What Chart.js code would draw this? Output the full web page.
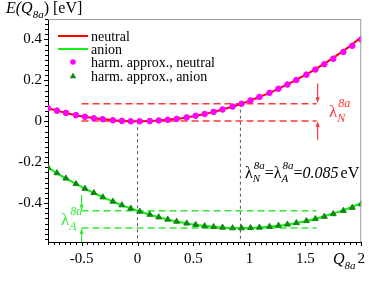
<!DOCTYPE html>
<html>
<head>
<meta charset="utf-8">
<script src="https://cdn.jsdelivr.net/npm/chart.js@4.4.1/dist/chart.umd.min.js"></script>
<style>
  html, body { margin: 0; padding: 0; background: #fff; }
</style>
</head>
<body>
<canvas id="graficoEnergia" width="373" height="292"></canvas>
<script>
// DADOS

const coordQ = [-0.80, -0.72, -0.64, -0.55, -0.47, -0.39, -0.31, -0.22, -0.14, -0.06,
  0.02, 0.11, 0.19, 0.27, 0.35, 0.44, 0.52, 0.60, 0.68, 0.76, 0.85, 0.93, 1.01, 1.09,
  1.18, 1.26, 1.34, 1.42, 1.51, 1.59, 1.67, 1.75, 1.84, 1.92, 2.00];

const energiaNeutro = [0.064, 0.052, 0.041, 0.030, 0.022, 0.015, 0.010, 0.005, 0.002, 0.000,
  0.000, 0.001, 0.004, 0.007, 0.012, 0.019, 0.027, 0.036, 0.046, 0.058, 0.072, 0.086, 0.102, 0.119,
  0.139, 0.159, 0.180, 0.203, 0.229, 0.255, 0.282, 0.310, 0.344, 0.376, 0.412];

const energiaAnion = [-0.226, -0.253, -0.279, -0.306, -0.329, -0.350, -0.371, -0.392, -0.410, -0.426,
  -0.441, -0.456, -0.469, -0.480, -0.490, -0.499, -0.506, -0.512, -0.516, -0.519, -0.522, -0.522, -0.521, -0.519,
  -0.515, -0.510, -0.504, -0.497, -0.487, -0.476, -0.464, -0.451, -0.434, -0.418, -0.400];

const harmNeutro = [0.064, 0.052, 0.041, 0.030, 0.022, 0.015, 0.010, 0.005, 0.002, 0.000,
  0.000, 0.001, 0.004, 0.007, 0.012, 0.019, 0.027, 0.036, 0.046, 0.058, 0.072, 0.086, 0.102, 0.119,
  0.139, 0.159, 0.180, 0.202, 0.228, 0.253, 0.279, 0.306, 0.339, 0.369, 0.400];

const harmAnion = [-0.226, -0.253, -0.279, -0.306, -0.329, -0.350, -0.371, -0.392, -0.410, -0.426,
  -0.441, -0.456, -0.469, -0.480, -0.490, -0.499, -0.506, -0.512, -0.516, -0.519, -0.522, -0.522, -0.521, -0.519,
  -0.515, -0.510, -0.504, -0.497, -0.487, -0.477, -0.466, -0.453, -0.437, -0.422, -0.405];

const nomesSeries = ["neutral", "anion", "harm. approx., neutral", "harm. approx., anion"];

const ticksX = [-0.5, 0, 0.5, 1, 1.5, 2];
const ticksY = [-0.4, -0.2, 0, 0.2, 0.4];

// niveis tracejados (lambda) e guias verticais
const nivelLambdaN = [0.086, 0.001];
const nivelLambdaA = [-0.437, -0.522];
const faixaGuia = [-0.5, 1.6];
const qVerticais = [0, 0.92];
const topoVerticais = [0.0, 0.086];

// setas: [Q, E inicio, E ponta]
const setasN = [[1.61, 0.185, 0.088], [1.61, -0.09, 0.002]];
const setasA = [[-0.5, -0.36, -0.437], [-0.5, -0.59, -0.522]];

const Y_MIN = -0.59;

const vermelho = "#ff0000";
const verde = "#11ee11";
const magenta = "#ff00ff";
const verdeEscuro = "#118811";
const tracoVermelho = "#ff3636";
const tracoVerde = "#36e836";
const fonteSerif = "'Liberation Serif', 'Times New Roman', serif";

function pontos(ys) {
  return coordQ.map((q, i) => ({ x: q, y: ys[i] }));
}

const datasets = [
  {
    label: nomesSeries[2], data: pontos(harmNeutro), showLine: false,
    pointStyle: "circle", pointRadius: 2.8, backgroundColor: magenta, borderColor: magenta, order: 0,
  },
  {
    label: nomesSeries[3], data: pontos(harmAnion), showLine: false,
    pointStyle: "triangle", pointRadius: 3.4, backgroundColor: verdeEscuro, borderColor: verdeEscuro, order: 0,
  },
  {
    label: nomesSeries[0], data: pontos(energiaNeutro), showLine: true, pointRadius: 0,
    borderColor: vermelho, borderWidth: 2, tension: 0.3, order: 1,
  },
  {
    label: nomesSeries[1], data: pontos(energiaAnion), showLine: true, pointRadius: 0,
    borderColor: verde, borderWidth: 2, tension: 0.3, order: 1,
  },
];

// tracejados horizontais
nivelLambdaN.forEach((e) => {
  datasets.push({
    data: faixaGuia.map((q) => ({ x: q, y: e })), showLine: true, pointRadius: 0,
    borderColor: tracoVermelho, borderWidth: 1.5, borderDash: [7, 4], order: 2,
  });
});
nivelLambdaA.forEach((e) => {
  datasets.push({
    data: faixaGuia.map((q) => ({ x: q, y: e })), showLine: true, pointRadius: 0,
    borderColor: tracoVerde, borderWidth: 1.5, borderDash: [7, 4], order: 2,
  });
});
// guias verticais
qVerticais.forEach((q, i) => {
  datasets.push({
    data: [{ x: q, y: topoVerticais[i] }, { x: q, y: Y_MIN }], showLine: true, pointRadius: 0,
    borderColor: "#555555", borderWidth: 1, borderDash: [3, 3], order: 2,
  });
});

function textoRico(ctx, x, y, partes, cor) {
  let cx = x;
  ctx.fillStyle = cor;
  ctx.textBaseline = "alphabetic";
  ctx.textAlign = "left";
  partes.forEach((p) => {
    if (p.sup !== undefined) {
      ctx.font = p.fonte;
      const w1 = ctx.measureText(p.sup).width;
      const w2 = ctx.measureText(p.sub).width;
      ctx.fillText(p.sup, cx + (p.dxSup || 0), y + p.dySup);
      ctx.fillText(p.sub, cx, y + p.dySub);
      cx += Math.max(w1 + (p.dxSup || 0), w2);
    } else {
      ctx.font = p.fonte;
      ctx.fillText(p.t, cx, y + (p.dy || 0));
      cx += ctx.measureText(p.t).width + (p.dx || 0);
    }
  });
}

function seta(ctx, x, y0, y1, cor) {
  const dir = y1 > y0 ? 1 : -1;
  ctx.strokeStyle = cor;
  ctx.fillStyle = cor;
  ctx.lineWidth = 1.2;
  ctx.beginPath();
  ctx.moveTo(x, y0);
  ctx.lineTo(x, y1 - dir * 4);
  ctx.stroke();
  ctx.beginPath();
  ctx.moveTo(x, y1);
  ctx.lineTo(x - 2, y1 - dir * 6);
  ctx.lineTo(x + 2, y1 - dir * 6);
  ctx.closePath();
  ctx.fill();
}

const desenhoExtra = {
  id: "desenhoExtra",
  afterDraw(chart) {
    const { ctx, chartArea: a } = chart;
    const xs = chart.scales.x;
    const ys = chart.scales.y;
    ctx.save();

    // moldura cinza (topo e direita)
    ctx.strokeStyle = "#999999";
    ctx.lineWidth = 1;
    ctx.beginPath();
    ctx.moveTo(a.left, a.top + 0.5);
    ctx.lineTo(a.right - 0.5, a.top + 0.5);
    ctx.lineTo(a.right - 0.5, a.bottom);
    ctx.stroke();

    // ticks menores/maiores
    ctx.strokeStyle = "#000";
    ctx.beginPath();
    for (let i = -16; i <= 40; i++) {
      const px = Math.round(xs.getPixelForValue(i / 20)) + 0.5;
      const len = i % 10 === 0 ? 4 : 3;
      ctx.moveTo(px, a.bottom);
      ctx.lineTo(px, a.bottom + len);
    }
    for (let i = -23; i <= 20; i++) {
      const py = Math.round(ys.getPixelForValue(i * 0.025)) + 0.5;
      const len = i % 8 === 0 ? 4 : 3;
      ctx.moveTo(a.left, py);
      ctx.lineTo(a.left - len, py);
    }
    ctx.stroke();

    // setas
    setasN.forEach(([q, e0, e1]) =>
      seta(ctx, xs.getPixelForValue(q), ys.getPixelForValue(e0), ys.getPixelForValue(e1), tracoVermelho));
    setasA.forEach(([q, e0, e1]) =>
      seta(ctx, xs.getPixelForValue(q), ys.getPixelForValue(e0), ys.getPixelForValue(e1), tracoVerde));

    // legenda
    const itensLeg = [
      { tipo: "linha", cor: vermelho },
      { tipo: "linha", cor: verde },
      { tipo: "circulo", cor: magenta },
      { tipo: "triangulo", cor: verdeEscuro },
    ];
    const yLeg = [36, 49, 62, 76];
    itensLeg.forEach((it, i) => {
      const y = yLeg[i];
      ctx.fillStyle = it.cor;
      ctx.strokeStyle = it.cor;
      if (it.tipo === "linha") {
        ctx.lineWidth = 2;
        ctx.beginPath();
        ctx.moveTo(58, y);
        ctx.lineTo(88, y);
        ctx.stroke();
      } else if (it.tipo === "circulo") {
        ctx.beginPath();
        ctx.arc(73, y, 2.8, 0, Math.PI * 2);
        ctx.fill();
      } else {
        ctx.beginPath();
        ctx.moveTo(73, y - 3.4);
        ctx.lineTo(76.2, y + 2.2);
        ctx.lineTo(69.8, y + 2.2);
        ctx.closePath();
        ctx.fill();
      }
      ctx.fillStyle = "#000";
      ctx.font = "14px " + fonteSerif;
      ctx.textBaseline = "middle";
      ctx.textAlign = "left";
      ctx.fillText(chart.data.datasets[[2, 3, 0, 1][i]].label, 91, y + 1);
    });

    // titulo do eixo y
    textoRico(ctx, 6, 13, [
      { t: "E(Q", fonte: "italic 16px " + fonteSerif },
      { t: "8a", fonte: "italic 11px " + fonteSerif, dy: 5 },
      { t: ") [eV]", fonte: "16px " + fonteSerif },
    ], "#000");

    // titulo do eixo x
    textoRico(ctx, 333, 264, [
      { t: "Q", fonte: "italic 16px " + fonteSerif },
      { t: "8a", fonte: "italic 11px " + fonteSerif, dy: 5 },
    ], "#000");

    // formula
    const lam = "\u03bb";
    textoRico(ctx, 245, 178, [
      { t: lam, fonte: "16px " + fonteSerif },
      { sup: "8a", sub: "N", fonte: "italic 11px " + fonteSerif, dySup: -9, dySub: 4, dxSup: 1 },
      { t: "=", fonte: "16px " + fonteSerif },
      { t: lam, fonte: "16px " + fonteSerif },
      { sup: "8a", sub: "A", fonte: "italic 11px " + fonteSerif, dySup: -9, dySub: 4, dxSup: 1 },
      { t: "=", fonte: "16px " + fonteSerif },
      { t: "0.085", fonte: "italic 16px " + fonteSerif, dx: 2 },
      { t: "eV", fonte: "16px " + fonteSerif },
    ], "#000");

    // rotulos lambda
    textoRico(ctx, 329, 117, [
      { t: lam, fonte: "17px " + fonteSerif },
      { sup: "8a", sub: "N", fonte: "italic 12px " + fonteSerif, dySup: -10, dySub: 5, dxSup: 1 },
    ], tracoVermelho);
    textoRico(ctx, 61, 225, [
      { t: lam, fonte: "17px " + fonteSerif },
      { sup: "8a", sub: "A", fonte: "italic 12px " + fonteSerif, dySup: -10, dySub: 5, dxSup: 1 },
    ], tracoVerde);

    ctx.restore();
  },
};

new Chart(document.getElementById("graficoEnergia"), {
  type: "scatter",
  data: { datasets },
  options: {
    responsive: false,
    animation: false,
    devicePixelRatio: 1,
    layout: { padding: { top: 19, right: 4, left: 0, bottom: 0 } },
    plugins: {
      legend: { display: false },
      tooltip: { enabled: false },
    },
    scales: {
      x: {
        type: "linear",
        min: -0.8,
        max: 2,
        afterFit: (s) => { s.height = 50; },
        afterBuildTicks: (s) => { s.ticks = ticksX.map((v) => ({ value: v })); },
        grid: { display: false, drawTicks: false },
        border: { color: "#000", width: 1 },
        ticks: {
          color: "#000",
          padding: 8,
          maxRotation: 0,
          autoSkip: false,
          font: { family: fonteSerif, size: 15 },
          callback: (v) => String(v),
        },
      },
      y: {
        type: "linear",
        min: Y_MIN,
        max: 0.5,
        afterFit: (s) => { s.width = 48; },
        afterBuildTicks: (s) => { s.ticks = ticksY.map((v) => ({ value: v })); },
        grid: { display: false, drawTicks: false },
        border: { color: "#000", width: 1 },
        ticks: {
          color: "#000",
          padding: 6,
          autoSkip: false,
          font: { family: fonteSerif, size: 15 },
          callback: (v) => String(v),
        },
      },
    },
  },
  plugins: [desenhoExtra],
});
</script>
</body>
</html>
